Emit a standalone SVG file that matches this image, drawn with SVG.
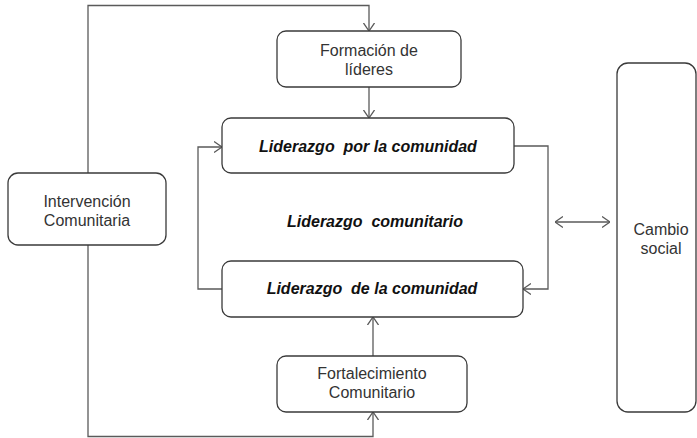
<svg xmlns="http://www.w3.org/2000/svg" width="697" height="438" viewBox="0 0 697 438">
<style>
.box{fill:#fff;stroke:#3a3a3a;stroke-width:1.3}
.t{font-family:"Liberation Sans",Arial,sans-serif;font-size:16px;fill:#333;text-anchor:middle}
.b{font-family:"Liberation Sans",Arial,sans-serif;font-size:16px;font-weight:bold;font-style:italic;fill:#111;text-anchor:middle}
.c{fill:none;stroke:#5a5a5a;stroke-width:1.3}
</style>
<defs>
<marker id="arr" viewBox="0 0 8 12" refX="8" refY="6" markerWidth="8" markerHeight="12" markerUnits="userSpaceOnUse" orient="auto-start-reverse">
<path d="M0,0.5 L8,6 L0,11.5" fill="none" stroke="#5a5a5a" stroke-width="1.3"/>
</marker>
</defs>
<rect width="697" height="438" fill="#fff"/>
<g id="connectors">
<path class="c" d="M88,173 V5.5 H369 V31" marker-end="url(#arr)"/>
<path class="c" d="M369,87 V118" marker-end="url(#arr)"/>
<path class="c" d="M88,245 V436.5 H373 V412" marker-end="url(#arr)"/>
<path class="c" d="M373,357 V317" marker-end="url(#arr)"/>
<path class="c" d="M222,289 H198 V147 H222" marker-end="url(#arr)"/>
<path class="c" d="M514,146 H548 V289 H523" marker-end="url(#arr)"/>
<path class="c" d="M555,222 H610" marker-start="url(#arr)" marker-end="url(#arr)"/>
</g>
<g id="formacion">
<rect class="box" x="277" y="31" width="184" height="56" rx="9"/>
<text class="t" x="369" y="56">Formación de</text>
<text class="t" x="369" y="75">líderes</text>
</g>
<g id="liderazgo-por">
<rect class="box" x="222" y="118" width="292" height="55" rx="9"/>
<text class="b" x="368" y="152" xml:space="preserve">Liderazgo  por la comunidad</text>
</g>
<g id="intervencion">
<rect class="box" x="8" y="173" width="158" height="72" rx="10"/>
<text class="t" x="87" y="207">Intervención</text>
<text class="t" x="87" y="226">Comunitaria</text>
</g>
<g id="liderazgo-comunitario">
<text class="b" x="375" y="227" xml:space="preserve">Liderazgo  comunitario</text>
</g>
<g id="liderazgo-de">
<rect class="box" x="222" y="261" width="301" height="56" rx="9"/>
<text class="b" x="372" y="294" xml:space="preserve">Liderazgo  de la comunidad</text>
</g>
<g id="fortalecimiento">
<rect class="box" x="277" y="356" width="190" height="56" rx="9"/>
<text class="t" x="372" y="379">Fortalecimiento</text>
<text class="t" x="372" y="398">Comunitario</text>
</g>
<g id="cambio">
<rect class="box" x="617" y="63" width="79" height="349" rx="11"/>
<text class="t" x="661" y="235">Cambio</text>
<text class="t" x="661" y="254">social</text>
</g>
</svg>
